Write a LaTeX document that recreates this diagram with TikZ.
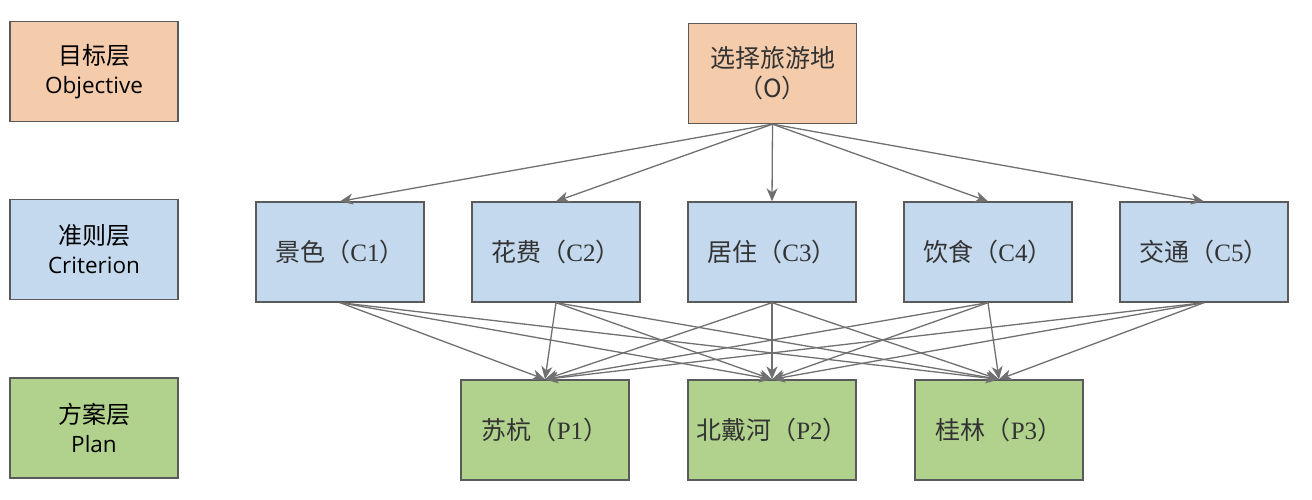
\documentclass[tikz,border=0pt]{standalone}
\usepackage{fontspec}
\setmainfont{Open Sans}
\newfontfamily\cjk{Noto Sans CJK SC}
\newfontfamily\serifl{Liberation Serif}
\usetikzlibrary{arrows.meta}
\definecolor{bord}{HTML}{5A5A5A}
\definecolor{arr}{HTML}{707070}
\definecolor{orangef}{HTML}{F4CBAB}
\definecolor{bluef}{HTML}{C4D9EE}
\definecolor{greenf}{HTML}{B1D28C}
\newcommand{\mlbl}[2]{{\cjk #1（}{\serifl #2}{\cjk ）}}
\begin{document}
\begin{tikzpicture}[x=1pt,y=-1pt,
  boxbase/.style={draw=bord,line width=1.3pt,minimum width=168pt,minimum height=100pt,inner sep=0pt,text=black!80,font=\fontsize{25}{30}\selectfont,align=center},
  obox/.style={boxbase,fill=orangef},
  cbox/.style={boxbase,fill=bluef},
  pbox/.style={boxbase,fill=greenf},
  lbox/.style={boxbase,text=black,font=\fontsize{22.5}{30}\selectfont},
  conn/.style={draw=arr,line width=1.3pt,-{Stealth[length=13pt,width=11pt,inset=4pt]}}]
\useasboundingbox (0,0) rectangle (1312,500);
% left column
\node[lbox,fill=orangef] (lo) at (94,71.5) {{\cjk\fontsize{24}{30}\selectfont 目标层}\\[-1pt]Objective};
\node[lbox,fill=bluef] (lc) at (94,249.5) {{\cjk\fontsize{24}{30}\selectfont 准则层}\\[-1pt]Criterion};
\node[lbox,fill=greenf] (lp) at (94,428) {{\cjk\fontsize{24}{30}\selectfont 方案层}\\[-1pt]Plan};
% objective
\node[obox] (O) at (772.5,73.5) {{\cjk 选择旅游地}\\[0pt]{\cjk （O）}};
% criteria
\node[cbox] (C1) at (340,252) {\mlbl{景色}{C1}};
\node[cbox] (C2) at (556,252) {\mlbl{花费}{C2}};
\node[cbox] (C3) at (772,252) {\mlbl{居住}{C3}};
\node[cbox] (C4) at (988,252) {\mlbl{饮食}{C4}};
\node[cbox] (C5) at (1204,252) {\mlbl{交通}{C5}};
% plans
\node[pbox] (P1) at (545,430) {\mlbl{苏杭}{P1}};
\node[pbox] (P2) at (772,430) {\mlbl{北戴河}{P2}};
\node[pbox] (P3) at (999,430) {\mlbl{桂林}{P3}};
% connectors
\foreach \c in {C1,C2,C3,C4,C5}{
  \draw[conn] (O.south) -- (\c.north);
  \foreach \p in {P1,P2,P3}{
    \draw[conn] (\c.south) -- (\p.north);
  }
}
\end{tikzpicture}
\end{document}
